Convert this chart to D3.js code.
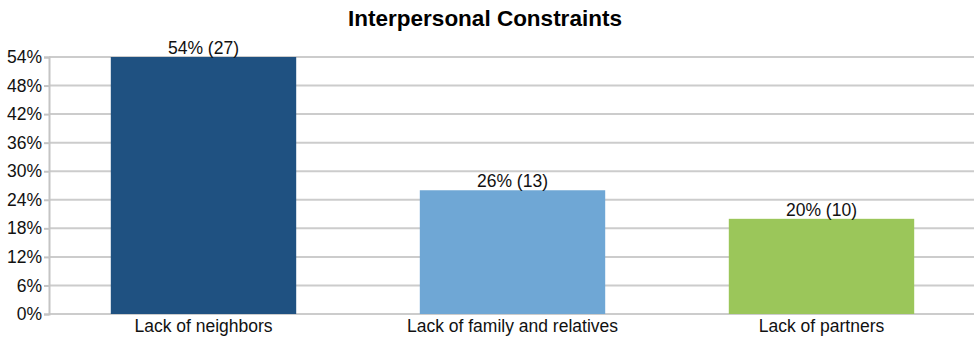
<!DOCTYPE html>
<html>
<head>
<meta charset="utf-8">
<script src="https://cdn.jsdelivr.net/npm/d3@7"></script>
<style>
  body { margin: 0; background: #fff; }
</style>
</head>
<body>
<script>
// Données du graphique
const categories = ['Lack of neighbors', 'Lack of family and relatives', 'Lack of partners'];
const percents = [54, 26, 20];
const counts = [27, 13, 10];
const barColors = ['#1f5181', '#6fa7d5', '#9bc65a'];
const yTicks = [0, 6, 12, 18, 24, 30, 36, 42, 48, 54];

const width = 974;
const height = 340;
const margin = { top: 57, right: -2, bottom: 26, left: 49 };
const font = '"Liberation Sans", Arial, sans-serif';

const data = categories.map((c, i) => ({ cat: c, pct: percents[i], n: counts[i], color: barColors[i] }));

const svg = d3.select('body')
  .append('svg')
  .attr('width', width)
  .attr('height', height)
  .style('font-family', font);

const x = d3.scaleBand()
  .domain(categories)
  .range([margin.left, width - margin.right])
  .paddingInner(0.4)
  .paddingOuter(0.2);

const y = d3.scaleLinear()
  .domain([0, 54])
  .range([height - margin.bottom, margin.top]);

// Titre
svg.append('text')
  .attr('x', width / 2 - 2)
  .attr('y', 26)
  .attr('text-anchor', 'middle')
  .style('font-size', '22.5px')
  .style('font-weight', 'bold')
  .text('Interpersonal Constraints');

// Grille horizontale
svg.append('g')
  .selectAll('line')
  .data(yTicks)
  .enter()
  .append('line')
  .attr('x1', margin.left)
  .attr('x2', width)
  .attr('y1', d => y(d))
  .attr('y2', d => y(d))
  .attr('stroke', '#cccccc')
  .attr('stroke-width', 2);

// Axe vertical
svg.append('g')
  .attr('transform', `translate(${margin.left}, 0)`)
  .call(d3.axisLeft(y).tickValues(yTicks).tickFormat(d => d + '%').tickSize(5).tickPadding(2))
  .call(g => g.selectAll('.domain').attr('stroke', '#c4c4c4').attr('stroke-width', 2))
  .call(g => g.selectAll('.tick line').attr('stroke', '#c4c4c4').attr('stroke-width', 2))
  .call(g => g.selectAll('text').style('font-size', '17.5px').attr('fill', '#111').style('font-family', font));

// Barres
svg.append('g')
  .selectAll('rect')
  .data(data)
  .enter()
  .append('rect')
  .attr('x', d => x(d.cat))
  .attr('y', d => y(d.pct))
  .attr('width', x.bandwidth())
  .attr('height', d => y(0) - y(d.pct))
  .attr('fill', d => d.color);

// Étiquettes des valeurs
svg.append('g')
  .attr('text-anchor', 'middle')
  .selectAll('text')
  .data(data)
  .enter()
  .append('text')
  .attr('x', d => x(d.cat) + x.bandwidth() / 2)
  .attr('y', d => y(d.pct) - 3)
  .style('font-size', '17.5px')
  .attr('fill', '#111')
  .text(d => `${d.pct}% (${d.n})`);

// Axe horizontal (libellés)
svg.append('g')
  .attr('transform', `translate(0, ${height - margin.bottom})`)
  .call(d3.axisBottom(x).tickSize(0).tickPadding(6))
  .call(g => g.select('.domain').remove())
  .call(g => g.selectAll('text').style('font-size', '17.5px').attr('fill', '#111').style('font-family', font));
</script>
</body>
</html>
